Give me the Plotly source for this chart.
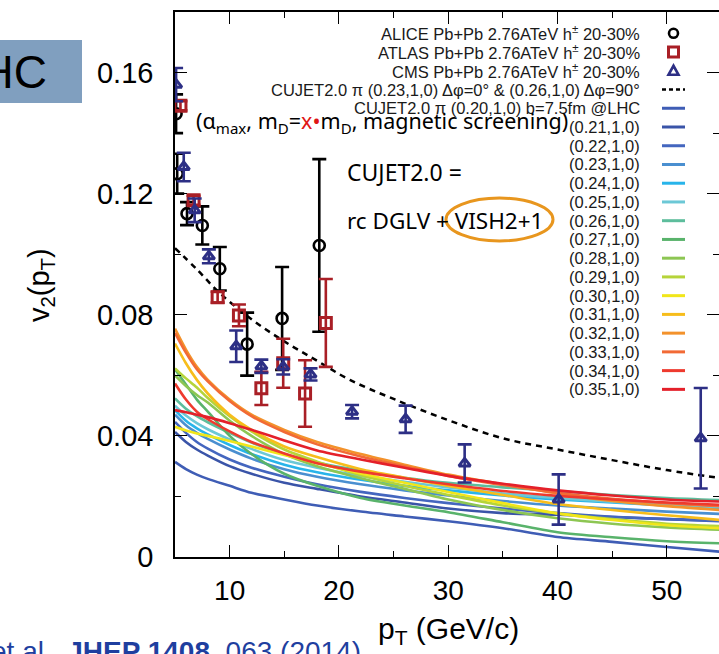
import plotly.graph_objects as go

# ---------------- data ----------------
ALICE_X = [5.1, 5.2, 6.1, 7.5, 9.1, 11.6, 14.8, 18.2]
ALICE_Y = [0.1464, 0.1266, 0.1134, 0.1095, 0.0952, 0.0703, 0.0788, 0.1029]
ALICE_E = [0.0064, 0.0066, 0.0038, 0.0063, 0.0072, 0.0104, 0.0170, 0.0285]

ATLAS_X = [5.5, 6.7, 8.9, 10.85, 12.9, 14.9, 16.9, 18.8]
ATLAS_Y = [0.1490, 0.1178, 0.0858, 0.0798, 0.0557, 0.0640, 0.0540, 0.0773]
ATLAS_E = [0.0015, 0.0015, 0.0018, 0.0036, 0.0055, 0.0081, 0.0110, 0.0145]

CMS_X = [5.1, 5.8, 6.8, 8.1, 10.6, 12.9, 14.9, 17.4, 21.2, 26.1, 31.5, 40.1, 53.1]
CMS_Y = [0.1560, 0.1288, 0.1145, 0.0993, 0.0696, 0.0630, 0.0628, 0.0603, 0.0480, 0.0455, 0.0309, 0.0190, 0.0392]
CMS_E = [0.0055, 0.0047, 0.0039, 0.0023, 0.0052, 0.0022, 0.0025, 0.0020, 0.0022, 0.0045, 0.0063, 0.0083, 0.0166]

DASH_X = [5, 7, 9, 12, 15, 18, 21, 25, 30, 35, 40, 45, 50, 55]
DASH_Y = [0.1020, 0.0950, 0.0875, 0.0785, 0.0712, 0.0648, 0.0585, 0.0522, 0.0452, 0.0392, 0.0355, 0.0320, 0.0287, 0.0260]

CURVE_X = [5, 6, 7, 8, 10, 12, 15, 18, 22, 26, 30, 35, 40, 45, 50, 55]
CURVE_LABELS = ["0.20", "0.21", "0.22", "0.23", "0.24", "0.25", "0.26", "0.27",
                "0.28", "0.29", "0.30", "0.31", "0.32", "0.33", "0.34", "0.35"]
CURVE_COLORS = ["#3f5db5", "#3a54a8", "#4466bf", "#4a8fd0", "#28b4ea", "#6cc8d6",
                "#5dbd9c", "#59b36b", "#8dc653", "#b6d43a", "#f1e61a", "#f7bd1b",
                "#f3922b", "#f26a35", "#ee3a2e", "#e4202a"]
CURVE_Y = [
    [0.0314, 0.0290, 0.0272, 0.0258, 0.0235, 0.0212, 0.0190, 0.0170, 0.0150, 0.0134, 0.0118, 0.0095, 0.0066, 0.0050, 0.0033, 0.0017],
    [0.0413, 0.0380, 0.0355, 0.0335, 0.0300, 0.0275, 0.0245, 0.0225, 0.0200, 0.0180, 0.0160, 0.0145, 0.0140, 0.0132, 0.0125, 0.0120],
    [0.0446, 0.0410, 0.0380, 0.0358, 0.0322, 0.0295, 0.0265, 0.0240, 0.0215, 0.0195, 0.0178, 0.0160, 0.0145, 0.0133, 0.0125, 0.0118],
    [0.0470, 0.0435, 0.0410, 0.0390, 0.0355, 0.0325, 0.0290, 0.0265, 0.0240, 0.0220, 0.0203, 0.0185, 0.0170, 0.0160, 0.0150, 0.0142],
    [0.0485, 0.0450, 0.0425, 0.0405, 0.0370, 0.0340, 0.0305, 0.0280, 0.0255, 0.0235, 0.0220, 0.0203, 0.0190, 0.0180, 0.0170, 0.0160],
    [0.0500, 0.0467, 0.0442, 0.0422, 0.0388, 0.0357, 0.0320, 0.0295, 0.0268, 0.0248, 0.0230, 0.0210, 0.0195, 0.0183, 0.0172, 0.0165],
    [0.0524, 0.0490, 0.0465, 0.0445, 0.0410, 0.0378, 0.0340, 0.0312, 0.0285, 0.0262, 0.0245, 0.0230, 0.0218, 0.0205, 0.0195, 0.0188],
    [0.0620, 0.0570, 0.0520, 0.0480, 0.0400, 0.0340, 0.0275, 0.0235, 0.0195, 0.0170, 0.0148, 0.0115, 0.0082, 0.0065, 0.0052, 0.0045],
    [0.0600, 0.0565, 0.0535, 0.0510, 0.0450, 0.0400, 0.0340, 0.0300, 0.0260, 0.0225, 0.0190, 0.0155, 0.0128, 0.0110, 0.0098, 0.0090],
    [0.0623, 0.0590, 0.0560, 0.0525, 0.0465, 0.0415, 0.0355, 0.0315, 0.0270, 0.0235, 0.0205, 0.0170, 0.0144, 0.0125, 0.0110, 0.0102],
    [0.0430, 0.0418, 0.0408, 0.0400, 0.0383, 0.0365, 0.0337, 0.0310, 0.0276, 0.0245, 0.0215, 0.0178, 0.0144, 0.0122, 0.0105, 0.0095],
    [0.0705, 0.0640, 0.0585, 0.0540, 0.0470, 0.0420, 0.0365, 0.0330, 0.0290, 0.0262, 0.0235, 0.0205, 0.0175, 0.0155, 0.0138, 0.0122],
    [0.0754, 0.0685, 0.0628, 0.0585, 0.0520, 0.0470, 0.0420, 0.0380, 0.0340, 0.0305, 0.0272, 0.0240, 0.0210, 0.0185, 0.0168, 0.0155],
    [0.0740, 0.0675, 0.0620, 0.0580, 0.0515, 0.0465, 0.0413, 0.0372, 0.0332, 0.0300, 0.0268, 0.0238, 0.0212, 0.0192, 0.0178, 0.0168],
    [0.0573, 0.0520, 0.0480, 0.0455, 0.0415, 0.0380, 0.0342, 0.0310, 0.0282, 0.0260, 0.0240, 0.0218, 0.0202, 0.0190, 0.0180, 0.0172],
    [0.0485, 0.0478, 0.0470, 0.0462, 0.0442, 0.0420, 0.0385, 0.0352, 0.0322, 0.0295, 0.0268, 0.0242, 0.0220, 0.0203, 0.0190, 0.0183],
]

LEGEND_MAIN = [
    "ALICE Pb+Pb 2.76ATeV h<sup>±</sup> 20-30%",
    "ATLAS Pb+Pb 2.76ATeV h<sup>±</sup> 20-30%",
    "CMS Pb+Pb 2.76ATeV h<sup>±</sup> 20-30%",
    "CUJET2.0 π (0.23,1,0) Δφ=0° &amp; (0.26,1,0) Δφ=90°",
    "CUJET2.0 π (0.20,1,0) b=7.5fm @LHC",
]
X_TICKS = [10, 20, 30, 40, 50]
Y_TICKS = [0, 0.04, 0.08, 0.12, 0.16]
Y_TICKTEXT = ["0", "0.04", "0.08", "0.12", "0.16"]

# ---------------- geometry ----------------
W, H = 719, 654
L, R, T, B = 175, 0, 12, 97
PW, PH = W - L - R, H - T - B


def px(x):
    return (x - L) / PW


def py(y):
    return (H - B - y) / PH


BLACK = "#000000"
RED = "#a91f26"
NAVY = "#2d2f85"
ARIAL = "Liberation Sans, Arial, sans-serif"
SLIDE = "Noto Sans, Open Sans, sans-serif"

fig = go.Figure()

for lab, col, ys in zip(CURVE_LABELS, CURVE_COLORS, CURVE_Y):
    fig.add_trace(go.Scatter(x=CURVE_X, y=ys, mode="lines", name=lab,
                             line=dict(color=col, width=2.6, shape="spline", smoothing=0.8)))

fig.add_trace(go.Scatter(x=DASH_X, y=DASH_Y, mode="lines", name="dash",
                         line=dict(color=BLACK, width=2.5, dash="6px,5px", shape="spline")))

fig.add_trace(go.Scatter(x=ALICE_X, y=ALICE_Y, mode="markers", name="ALICE",
                         marker=dict(symbol="circle-open", size=11, color=BLACK, line=dict(width=2.6, color=BLACK)),
                         error_y=dict(type="data", array=ALICE_E, color=BLACK, thickness=2.6, width=7)))
fig.add_trace(go.Scatter(x=ATLAS_X, y=ATLAS_Y, mode="markers", name="ATLAS",
                         marker=dict(symbol="square-open", size=11, color=RED, line=dict(width=3, color=RED)),
                         error_y=dict(type="data", array=ATLAS_E, color=RED, thickness=2.6, width=7)))
fig.add_trace(go.Scatter(x=CMS_X, y=CMS_Y, mode="markers", name="CMS",
                         marker=dict(symbol="triangle-up-open", size=10, color=NAVY, line=dict(width=3, color=NAVY)),
                         error_y=dict(type="data", array=CMS_E, color=NAVY, thickness=2.6, width=7)))

ann = []
shapes = []

# legend (text right aligned, sample on the right)
row0, dy = 33.3, 18.74
legend_texts = LEGEND_MAIN + ["(%s,1,0)" % l for l in CURVE_LABELS[1:]]
for i, t in enumerate(legend_texts):
    yy = row0 + i * dy
    ann.append(dict(x=px(642), y=py(yy), xref="paper", yref="paper", text=t, showarrow=False,
                    xanchor="right", yanchor="middle", font=dict(family=ARIAL, size=16.5, color="#1a1a1a")))
# legend samples
cx = 673.5
shapes.append(dict(type="circle", xref="paper", yref="paper", x0=px(cx - 4.5), x1=px(cx + 4.5),
                   y0=py(row0 + 4.5), y1=py(row0 - 4.5), line=dict(color=BLACK, width=2.6)))
shapes.append(dict(type="rect", xref="paper", yref="paper", x0=px(cx - 5), x1=px(cx + 5),
                   y0=py(row0 + dy + 5), y1=py(row0 + dy - 5), line=dict(color=RED, width=3)))
ty = row0 + 2 * dy
shapes.append(dict(type="path", xref="paper", yref="paper",
                   path="M %f %f L %f %f L %f %f Z" % (px(cx - 5), py(ty + 4), px(cx + 5), py(ty + 4), px(cx), py(ty - 5)),
                   line=dict(color=NAVY, width=2.6)))
shapes.append(dict(type="line", xref="paper", yref="paper", x0=px(662), x1=px(685),
                   y0=py(row0 + 3 * dy), y1=py(row0 + 3 * dy), line=dict(color=BLACK, width=2.4, dash="4px,3px")))
for i, col in enumerate(CURVE_COLORS):
    yy = row0 + (4 + i) * dy
    shapes.append(dict(type="line", xref="paper", yref="paper", x0=px(662), x1=px(685),
                       y0=py(yy), y1=py(yy), line=dict(color=col, width=3)))

# in-plot texts
ann.append(dict(x=px(194), y=py(122), xref="paper", yref="paper", showarrow=False, xanchor="left", yanchor="middle",
                text="(α<sub>max</sub>, m<sub>D</sub>=<span style='color:#e01515'>x•</span>m<sub>D</sub>, magnetic screening)",
                font=dict(family=SLIDE, size=21.5, color=BLACK)))
ann.append(dict(x=px(345), y=py(172), xref="paper", yref="paper", showarrow=False, xanchor="left", yanchor="middle",
                text="CUJET2.0 =", font=dict(family=SLIDE, size=23, color=BLACK)))
ann.append(dict(x=px(345), y=py(220), xref="paper", yref="paper", showarrow=False, xanchor="left", yanchor="middle",
                text="rc DGLV + VISH2+1", font=dict(family=SLIDE, size=22.5, color=BLACK)))
shapes.append(dict(type="circle", xref="paper", yref="paper", x0=px(446), x1=px(553), y0=py(241), y1=py(198),
                   line=dict(color="#e8961e", width=3)))

# axis titles
ann.append(dict(x=px(448), y=py(630), xref="paper", yref="paper", showarrow=False, xanchor="center", yanchor="middle",
                text="p<sub>T</sub> (GeV/c)", font=dict(family=ARIAL, size=30, color=BLACK)))
ann.append(dict(x=px(41), y=py(285), xref="paper", yref="paper", showarrow=False, xanchor="center", yanchor="middle",
                text="v<sub>2</sub>(p<sub>T</sub>)", textangle=-90, font=dict(family=ARIAL, size=29, color=BLACK)))

# slide decorations
shapes.append(dict(type="rect", xref="paper", yref="paper", x0=px(-5), x1=px(82), y0=py(103), y1=py(40),
                   fillcolor="#809fbf", line=dict(width=0), layer="below"))
ann.append(dict(x=px(49), y=py(72), xref="paper", yref="paper", showarrow=False, xanchor="right", yanchor="middle",
                text="LHC", font=dict(family=ARIAL, size=46, color=BLACK)))
ann.append(dict(x=px(363), y=py(634), xref="paper", yref="paper", showarrow=False, xanchor="right", yanchor="top",
                text="Xu et al., <b>JHEP 1408</b>, 063 (2014)", font=dict(family=ARIAL, size=28, color="#1f3f9f")))

fig.update_layout(
    width=W, height=H, margin=dict(l=L, r=R, t=T, b=B, autoexpand=False),
    plot_bgcolor="white", paper_bgcolor="white", showlegend=False,
    annotations=ann, shapes=shapes,
    xaxis=dict(range=[5, 5 + PW / 10.93], tickvals=X_TICKS, ticks="inside", ticklen=12, tickwidth=1.3,
               tickcolor=BLACK, showline=True, linecolor=BLACK, linewidth=1.5, mirror="ticks",
               showgrid=False, zeroline=False, ticklabelstandoff=8,
               tickfont=dict(family=ARIAL, size=28, color=BLACK),
               minor=dict(tickvals=[15, 25, 35, 45, 55], ticks="inside", ticklen=6, tickwidth=1.3, tickcolor=BLACK)),
    yaxis=dict(range=[0, 0.18], tickvals=Y_TICKS, ticktext=Y_TICKTEXT, ticks="inside", ticklen=12, tickwidth=1.3,
               tickcolor=BLACK, showline=True, linecolor=BLACK, linewidth=1.5, mirror="ticks",
               showgrid=False, zeroline=False, ticklabelstandoff=14,
               tickfont=dict(family=ARIAL, size=29, color=BLACK),
               minor=dict(tickvals=[0.02, 0.06, 0.10, 0.14], ticks="inside", ticklen=6, tickwidth=1.3, tickcolor=BLACK)),
)

fig.write_html("out.html")
